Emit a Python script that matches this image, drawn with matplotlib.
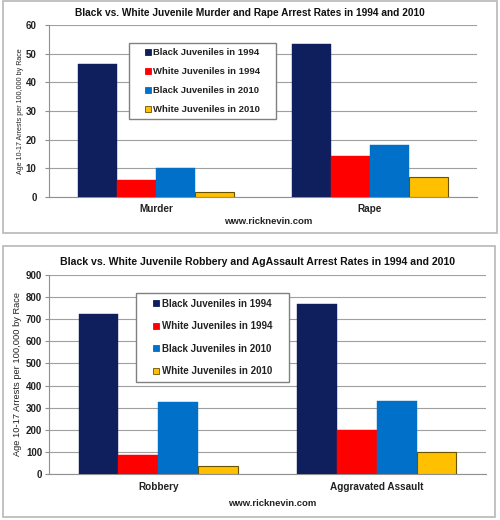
import matplotlib
matplotlib.use("Agg")
import matplotlib.pyplot as plt
from matplotlib.patches import Rectangle
from matplotlib.lines import Line2D
import numpy as np

plt.rcParams['font.family'] = ['Liberation Sans', 'DejaVu Sans']

series = ["Black Juveniles in 1994", "White Juveniles in 1994",
          "Black Juveniles in 2010", "White Juveniles in 2010"]
colors = ["#0f1f5e", "#ff0000", "#0070c8", "#ffc000"]
edges = ["#0f1f5e", "#ff0000", "#0070c8", "#6b5200"]

top_categories = ["Murder", "Rape"]
top_values = [[46.4, 53.4], [6.0, 14.2], [10.0, 18.0], [1.7, 7.0]]
top_title = "Black vs. White Juvenile Murder and Rape Arrest Rates in 1994 and 2010"

bot_categories = ["Robbery", "Aggravated Assault"]
bot_values = [[725, 770], [85, 200], [325, 330], [35, 100]]
bot_title = "Black vs. White Juvenile Robbery and AgAssault Arrest Rates in 1994 and 2010"

ylabel = "Age 10-17 Arrests per 100,000 by Race"
source = "www.ricknevin.com"

W, H = 500, 520
fig = plt.figure(figsize=(5, 5.2), dpi=100)
fig.patch.set_facecolor("white")


def fig_rect(x0, y0, x1, y1, **kw):
    fig.add_artist(Rectangle((x0 / W, 1 - y1 / H), (x1 - x0) / W, (y1 - y0) / H,
                             transform=fig.transFigure, **kw))


# panel borders
for box in [(3, 1, 497, 233), (3, 246, 495, 517)]:
    fig_rect(*box, fill=False, edgecolor="#b8b8b8", linewidth=1.2)


def make_panel(rect, cats, vals, ymax, step, title, title_x, title_y, title_fs,
               tick_y, src_y, leg_rect, leg_fs, leg_sp, ylab_fs, ylab_pad, ytick_pad):
    l, t, r, b = rect
    ax = fig.add_axes([l / W, 1 - b / H, (r - l) / W, (b - t) / H])
    x = np.arange(len(cats))
    bw = 0.182
    for i, (v, c, e) in enumerate(zip(vals, colors, edges)):
        ax.bar(x + (i - 1.5) * bw, v, width=bw, color=c, edgecolor=e,
               linewidth=0.8 if i == 3 else 0.3, zorder=3)
    ax.set_xlim(-0.5, len(cats) - 0.5)
    ax.set_ylim(0, ymax)
    ax.set_yticks(np.arange(0, ymax + 1, step))
    ax.yaxis.grid(True, color="#a0a0a0", linewidth=0.8, zorder=0)
    for s in ["top", "right"]:
        ax.spines[s].set_visible(False)
    ax.spines["left"].set_color("#909090")
    ax.spines["bottom"].set_color("#909090")
    ax.tick_params(axis="y", labelsize=7, length=3, color="#909090", pad=ytick_pad)
    ax.set_yticklabels([str(int(v)) for v in ax.get_yticks()], fontweight="bold",
                       color="#222222")
    ax.set_xticks(x)
    ax.set_xticklabels([])
    ax.tick_params(axis="x", length=0)
    for xi, c in zip(x, cats):
        fig.text((l + (xi + 0.5) * (r - l) / len(cats)) / W, 1 - tick_y / H, c,
                 ha="center", va="center", fontsize=7.2, fontweight="bold",
                 color="#222222")
    ax.set_ylabel(ylabel, fontsize=ylab_fs, labelpad=ylab_pad, color="#222222")
    fig.text(title_x / W, 1 - title_y / H, title, ha="center", va="center",
             fontsize=title_fs, fontweight="bold", color="#111111")
    fig.text(((l + r) / 2 + 5) / W, 1 - src_y / H, source, ha="center", va="center",
             fontsize=6.8, fontweight="bold", color="#222222")
    handles = [Line2D([], [], marker="s", linestyle="none", markersize=4,
                      markerfacecolor=c, markeredgecolor=e, markeredgewidth=0.6)
               for c, e in zip(colors, edges)]
    lx0, ly0, lx1, ly1 = leg_rect
    fig_rect(lx0, ly0, lx1, ly1, facecolor="white", edgecolor="#808080",
             linewidth=1.0, zorder=4)
    leg = fig.legend(handles, series, loc="center",
                     bbox_to_anchor=((lx0 + lx1) / 2 / W, 1 - (ly0 + ly1) / 2 / H),
                     fontsize=leg_fs, frameon=False, handlelength=0.6,
                     handletextpad=0.3, labelspacing=leg_sp, borderpad=0.2,
                     borderaxespad=0)
    leg.set_zorder(5)
    for txt in leg.get_texts():
        txt.set_fontweight("bold")
        txt.set_color("#222222")
    return ax


make_panel((49, 25, 477, 197), top_categories, top_values, 60, 10, top_title,
           250, 13, 7.3, 209, 222, (129, 43, 276, 119), 6.8, 1.05, 5.1, 1.5, 6)
make_panel((49, 275, 486, 474), bot_categories, bot_values, 900, 100, bot_title,
           258, 262, 7.6, 487, 504, (136, 293, 289, 382), 7.0, 1.3, 6.7, 3, 2)

fig.savefig("out.png", dpi=100)
